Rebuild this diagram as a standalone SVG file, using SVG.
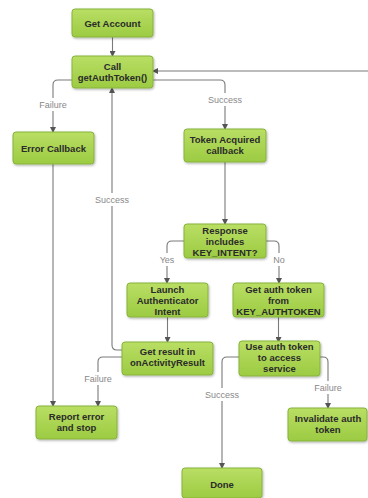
<svg xmlns="http://www.w3.org/2000/svg" width="368" height="498" viewBox="0 0 368 498">
<defs>
<linearGradient id="g" x1="0" y1="0" x2="0" y2="1">
<stop offset="0" stop-color="#b9de64"/>
<stop offset="1" stop-color="#9ccb42"/>
</linearGradient>
<filter id="sh" x="-10%" y="-10%" width="130%" height="140%">
<feDropShadow dx="0.8" dy="1.2" stdDeviation="1" flood-color="#000" flood-opacity="0.3"/>
</filter>
<marker id="ah" markerWidth="6" markerHeight="6" refX="5" refY="3" orient="auto" markerUnits="userSpaceOnUse">
<path d="M0,0 L6,3 L0,6 Z" fill="#555"/>
</marker>
<style>
.n rect{fill:url(#g);stroke:#87b33c;stroke-width:1;filter:url(#sh)}
.n text{font-family:"Liberation Sans",Arial,sans-serif;font-weight:bold;font-size:9.5px;fill:#2b2b2b;text-anchor:middle}
.c path{fill:none;stroke:#7a7a7a;stroke-width:1.1;marker-end:url(#ah)}
.lb rect{fill:#fff}
.lb text{font-family:"Liberation Sans",Arial,sans-serif;font-size:9px;fill:#888;text-anchor:middle}
</style>
</defs>
<rect width="368" height="498" fill="#fff"/>
<g id="connectors" class="c">
<path d="M112.5,37 V56"/>
<path d="M368,71 H153"/>
<path d="M72,80 H58 Q53,80 53,85 V132"/>
<path d="M153,80 H220 Q225,80 225,85 V129"/>
<path d="M122,350 H117 Q112,350 112,345 V88"/>
<path d="M53,164 V406"/>
<path d="M225,162 V224"/>
<path d="M184,241 H172 Q167,241 167,246 V283"/>
<path d="M266,241 H274 Q279,241 279,246 V283"/>
<path d="M167.5,317 V342"/>
<path d="M278.5,317 V342"/>
<path d="M122,357 H103 Q98,357 98,362 V406"/>
<path d="M239,357 H227 Q222,357 222,362 V468"/>
<path d="M320,357 H323 Q328,357 328,362 V408"/>
</g>
<g id="labels" class="lb">
<rect x="37" y="98" width="32" height="13"/><text x="53" y="108">Failure</text>
<rect x="207" y="93" width="36" height="13"/><text x="225" y="103">Success</text>
<rect x="94" y="193" width="36" height="13"/><text x="112" y="203">Success</text>
<rect x="157" y="253" width="20" height="13"/><text x="167" y="263">Yes</text>
<rect x="271" y="253" width="16" height="13"/><text x="279" y="263">No</text>
<rect x="82" y="372" width="32" height="13"/><text x="98" y="382">Failure</text>
<rect x="204" y="388" width="36" height="13"/><text x="222" y="398">Success</text>
<rect x="312" y="381" width="32" height="13"/><text x="328" y="391">Failure</text>
</g>
<g id="get-account" class="n"><rect x="72" y="9" width="81" height="28" rx="3"/><text x="112.5" y="26.5">Get Account</text></g>
<g id="call-getauthtoken" class="n"><rect x="72" y="56" width="81" height="32" rx="3"/><text x="112.5" y="70">Call</text><text x="112.5" y="81">getAuthToken()</text></g>
<g id="error-callback" class="n"><rect x="13" y="132" width="81" height="32" rx="3"/><text x="53.5" y="151.5">Error Callback</text></g>
<g id="token-acquired" class="n"><rect x="184" y="129" width="82" height="33" rx="3"/><text x="225" y="142.5">Token Acquired</text><text x="225" y="153.5">callback</text></g>
<g id="response-includes" class="n"><rect x="184" y="224" width="82" height="34" rx="3"/><text x="225" y="233.5">Response</text><text x="225" y="244.5">includes</text><text x="225" y="255.5">KEY_INTENT?</text></g>
<g id="launch-authenticator" class="n"><rect x="127" y="283" width="81" height="34" rx="3"/><text x="167.5" y="292.5">Launch</text><text x="167.5" y="303.5">Authenticator</text><text x="167.5" y="314.5">Intent</text></g>
<g id="get-auth-token" class="n"><rect x="233" y="283" width="91" height="34" rx="3"/><text x="278.5" y="292.5">Get auth token</text><text x="278.5" y="303.5">from</text><text x="278.5" y="314.5">KEY_AUTHTOKEN</text></g>
<g id="get-result" class="n"><rect x="122" y="342" width="91" height="33" rx="3"/><text x="167.5" y="355">Get result in</text><text x="167.5" y="366">onActivityResult</text></g>
<g id="use-auth-token" class="n"><rect x="239" y="341" width="81" height="35" rx="3"/><text x="279.5" y="350">Use auth token</text><text x="279.5" y="361">to access</text><text x="279.5" y="372">service</text></g>
<g id="report-error" class="n"><rect x="36" y="406" width="81" height="33" rx="3"/><text x="76.5" y="420">Report error</text><text x="76.5" y="431">and stop</text></g>
<g id="invalidate-token" class="n"><rect x="288" y="408" width="79" height="33" rx="3"/><text x="328" y="421.5">Invalidate auth</text><text x="328" y="432.5">token</text></g>
<g id="done" class="n"><rect x="182" y="468" width="80" height="30" rx="3"/><text x="222" y="488">Done</text></g>
</svg>
